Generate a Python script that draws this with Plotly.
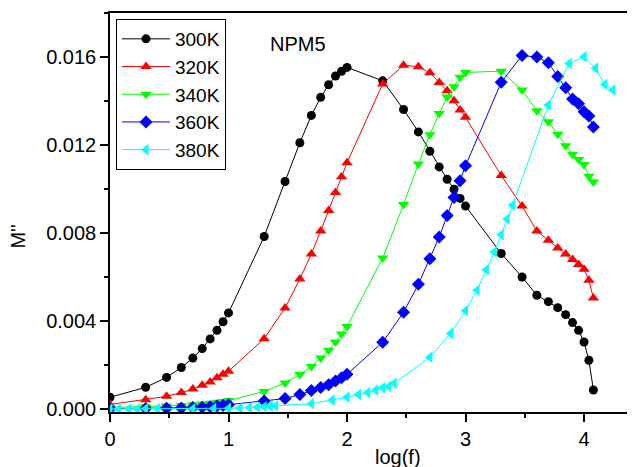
import plotly.graph_objects as go

# log(f) grid shared by 300K-360K
logf = [0.0, 0.301, 0.477, 0.602, 0.699, 0.778, 0.845, 0.903, 0.954, 1.0,
        1.301, 1.477, 1.602, 1.699, 1.778, 1.845, 1.903, 1.954, 2.0,
        2.301, 2.477, 2.602, 2.699, 2.778, 2.845, 2.903, 2.954, 3.0,
        3.301, 3.477, 3.602, 3.699, 3.778, 3.845, 3.903, 3.954, 4.0,
        4.041, 4.079]

m300 = [0.00055, 0.00100, 0.00145, 0.00190, 0.00233, 0.00276, 0.00320, 0.00359, 0.00398, 0.00438,
        0.00785, 0.01035, 0.01211, 0.01335, 0.01417, 0.01474, 0.01514, 0.01535, 0.01553,
        0.01492, 0.01362, 0.01260, 0.01172, 0.01101, 0.01045, 0.01000, 0.00958, 0.00923,
        0.00708, 0.00601, 0.00518, 0.00489, 0.00462, 0.00430, 0.00394, 0.00359, 0.00306,
        0.00223, 0.00088]

m320 = [0.00022, 0.00044, 0.00059, 0.00076, 0.00092, 0.00109, 0.00124, 0.00144, 0.00159, 0.00173,
        0.00321, 0.00460, 0.00592, 0.00706, 0.00810, 0.00903, 0.00985, 0.01056, 0.01120,
        0.01478, 0.01563, 0.01556, 0.01529, 0.01484, 0.01447, 0.01401, 0.01360, 0.01326,
        0.01062, 0.00923, 0.00810, 0.00768, 0.00733, 0.00705, 0.00680, 0.00658, 0.00636,
        0.00586, 0.00506]

m340 = [0.00008, 0.00012, 0.00015, 0.00018, 0.00021, 0.00024, 0.00028, 0.00032, 0.00036, 0.00040,
        0.00081, 0.00120, 0.00158, 0.00195, 0.00233, 0.00268, 0.00306, 0.00342, 0.00376,
        0.00687, 0.00930, 0.01114, 0.01247, 0.01344, 0.01418, 0.01465, 0.01508, 0.01530,
        0.01536, 0.01450, 0.01356, 0.01306, 0.01249, 0.01197, 0.01159, 0.01135, 0.01112,
        0.01059, 0.01033]

m360 = [0.00003, 0.00004, 0.00005, 0.00006, 0.00008, 0.00010, 0.00012, 0.00015, 0.00018, 0.00021,
        0.00038, 0.00049, 0.00067, 0.00086, 0.00099, 0.00112, 0.00129, 0.00144, 0.00159,
        0.00305, 0.00441, 0.00568, 0.00684, 0.00783, 0.00880, 0.00962, 0.01038, 0.01106,
        0.01485, 0.01607, 0.01600, 0.01574, 0.01512, 0.01460, 0.01410, 0.01388, 0.01351,
        0.01332, 0.01282]

logf380 = [0.0, 0.07, 0.16, 0.23, 0.30,
           0.398, 0.699, 0.875, 1.0, 1.097, 1.176, 1.243, 1.301, 1.352, 1.398,
           1.699, 1.875, 2.0, 2.097, 2.176, 2.243, 2.301, 2.352, 2.398,
           2.699, 2.875, 3.0, 3.097, 3.176, 3.243, 3.301, 3.352, 3.398,
           3.699, 3.875, 4.0, 4.097, 4.176, 4.243]
m380 = [0.00002, 0.00002, 0.00002, 0.00002, 0.00003,
        0.00003, 0.00003, 0.00004, 0.00005, 0.00006, 0.00008, 0.00010, 0.00012, 0.00014, 0.00016,
        0.00026, 0.00042, 0.00055, 0.00067, 0.00076, 0.00088, 0.00098, 0.00104, 0.00119,
        0.00236, 0.00345, 0.00448, 0.00541, 0.00634, 0.00715, 0.00793, 0.00864, 0.00927,
        0.01382, 0.01571, 0.01601, 0.01549, 0.01475, 0.01450]

series = [
    ("300K", logf, m300, "black", "circle", 9),
    ("320K", logf, m320, "red", "triangle-up", 10),
    ("340K", logf, m340, "#00FF00", "triangle-down", 10),
    ("360K", logf, m360, "blue", "diamond", 10),
    ("380K", logf380, m380, "#00FFFF", "triangle-left", 10),
]

FONT = "Arial, Liberation Sans, sans-serif"

fig = go.Figure()
for name, xs, ys, col, sym, sz in series:
    fig.add_trace(go.Scatter(
        x=xs, y=ys, name=name, mode="lines+markers",
        line=dict(color=col, width=1),
        marker=dict(color=col, symbol=sym, size=sz, line=dict(width=0)),
    ))

# page body has an 8px margin, so the figure is 8px smaller on each side
fig.update_layout(
    width=627, height=459,
    margin=dict(l=102, r=0, t=5, b=55),
    paper_bgcolor="white", plot_bgcolor="white",
    font=dict(family=FONT, size=20, color="black"),
    showlegend=True,
    legend=dict(x=0.0114, y=0.985, xanchor="left", yanchor="top",
                bordercolor="black", borderwidth=1, bgcolor="white",
                font=dict(family=FONT, size=19, color="black"),
                tracegroupgap=0, itemwidth=48),
    xaxis=dict(range=[0, 4.43], tickvals=[0, 1, 2, 3, 4], ticktext=["0", "1", "2", "3", "4"],
               ticks="outside", ticklen=8, tickwidth=1.5, tickcolor="black",
               minor=dict(ticks="outside", ticklen=4, tickwidth=1.5, tickcolor="black", dtick=0.5, tick0=0),
               showline=True, linecolor="black", linewidth=1.5, mirror=True,
               showgrid=False, zeroline=False,
               tickfont=dict(family=FONT, size=20, color="black")),
    yaxis=dict(range=[-0.00012, 0.018], tickvals=[0, 0.004, 0.008, 0.012, 0.016],
               ticktext=["0.000", "0.004", "0.008", "0.012", "0.016"],
               ticks="outside", ticklen=8, tickwidth=1.5, tickcolor="black",
               minor=dict(ticks="outside", ticklen=4, tickwidth=1.5, tickcolor="black", dtick=0.002, tick0=0),
               showline=True, linecolor="black", linewidth=1.5, mirror=False,
               showgrid=False, zeroline=False,
               tickfont=dict(family=FONT, size=20, color="black")),
    annotations=[
        dict(text="NPM5", x=1.333, y=0.01659, xref="x", yref="y", xanchor="left", yanchor="middle",
             showarrow=False, font=dict(family=FONT, size=20, color="black")),
        dict(text="M''", x=-0.175, y=0.44, xref="paper", yref="paper", xanchor="center", yanchor="middle",
             textangle=-90, showarrow=False, font=dict(family=FONT, size=20, color="black")),
        dict(text="log(f)", x=0.5486, y=-0.08, xref="paper", yref="paper", xanchor="center", yanchor="top",
             showarrow=False, font=dict(family=FONT, size=20, color="black")),
    ],
)

fig.write_html("out.html")
